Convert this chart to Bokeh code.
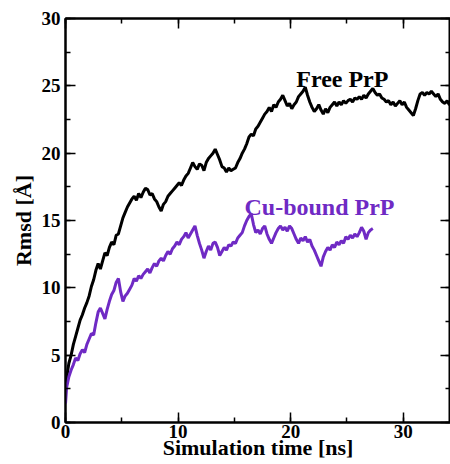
from bokeh.plotting import figure
from bokeh.models import LinearAxis, SingleIntervalTicker, Range1d, Label
from bokeh.embed import file_html
from bokeh.resources import INLINE

# ---- data ----
free_t = [0.0, 0.15, 0.3, 0.5, 0.7, 0.9, 1.1, 1.3, 1.5, 1.7, 1.9, 2.1, 2.3, 2.5, 2.7, 2.9,
          3.1, 3.3, 3.5, 3.7, 3.9, 4.1, 4.3, 4.5, 4.7, 4.9, 5.1, 5.3, 5.5, 5.7, 5.9,
          6.1, 6.3, 6.5, 6.7, 6.9, 7.1, 7.3, 7.5, 7.7, 7.9, 8.1, 8.3, 8.5, 8.7, 8.9,
          9.1, 9.3, 9.5, 9.7, 9.9, 10.1, 10.3, 10.5, 10.7, 10.9, 11.1, 11.3, 11.5, 11.7, 11.9,
          12.1, 12.3, 12.5, 12.7, 12.9, 13.1, 13.3, 13.5, 13.7, 13.9, 14.1, 14.3, 14.5, 14.7, 14.9,
          15.1, 15.3, 15.5, 15.7, 15.9, 16.1, 16.3, 16.5, 16.7, 16.9, 17.1, 17.3, 17.5, 17.7, 17.9,
          18.1, 18.3, 18.5, 18.7, 18.9, 19.1, 19.3, 19.5, 19.7, 19.9, 20.1, 20.3, 20.5, 20.7, 20.9,
          21.1, 21.3, 21.5, 21.7, 21.9, 22.1, 22.3, 22.5, 22.7, 22.9, 23.1, 23.3, 23.5, 23.7, 23.9,
          24.1, 24.3, 24.5, 24.7, 24.9, 25.1, 25.3, 25.5, 25.7, 25.9, 26.1, 26.3, 26.5, 26.7, 26.9,
          27.1, 27.3, 27.5, 27.7, 27.9, 28.1, 28.3, 28.5, 28.7, 28.9, 29.1, 29.3, 29.5, 29.7, 29.9,
          30.1, 30.3, 30.5, 30.7, 30.9, 31.1, 31.3, 31.5, 31.7, 31.9, 32.1, 32.3, 32.5, 32.7, 32.9,
          33.1, 33.3, 33.5, 33.7, 33.9, 34.1, 34.3, 34.5]
free_rmsd = [2.4, 3.6, 4.4, 5.0, 5.8, 6.4, 7.0, 7.6, 8.0, 8.5, 8.9, 9.4, 10.1, 10.6, 11.3, 11.8,
             11.4, 12.0, 12.6, 12.4, 13.0, 13.4, 13.2, 13.9, 14.0, 14.6, 15.2, 15.6, 16.0, 16.3, 16.6,
             16.8, 16.5, 17.0, 16.7, 17.1, 17.4, 17.3, 16.9, 17.0, 16.6, 16.4, 16.0, 15.7, 16.2, 16.4,
             16.8, 17.0, 17.2, 17.4, 17.6, 17.8, 17.6, 18.0, 18.3, 18.5, 18.9, 19.3, 19.0, 18.8, 19.2,
             19.1, 18.7, 19.3, 19.6, 19.8, 20.0, 20.3, 19.9, 19.5, 19.0, 18.9, 18.6, 18.9, 18.7, 18.8,
             18.9, 19.3, 19.6, 20.0, 20.3, 20.7, 21.2, 21.4, 21.3, 21.8, 22.0, 22.3, 22.6, 22.9, 23.1,
             23.4, 23.1, 23.6, 23.4, 23.8, 24.0, 24.3, 23.9, 23.5, 23.7, 23.3, 23.6, 23.8, 24.2, 24.4,
             24.6, 24.9, 24.3, 23.8, 23.4, 23.1, 23.3, 23.6, 23.2, 22.9, 23.3, 23.0, 23.4, 23.6, 23.8,
             23.5, 23.8, 23.6, 23.9, 23.7, 23.9, 24.0, 23.8, 24.1, 24.0, 24.2, 24.0, 24.3, 24.1, 24.4,
             24.6, 24.8, 24.5, 24.3, 24.4, 24.1, 24.0, 23.8, 23.9, 23.6, 23.8, 23.5, 23.7, 23.9, 23.6,
             23.8, 23.4, 23.2, 23.0, 22.8, 23.3, 23.9, 24.4, 24.5, 24.3, 24.5, 24.4, 24.6, 24.4, 24.2,
             24.4, 24.0, 23.8, 23.7, 23.9, 23.6, 23.7, 23.5]

cu_t = [0.0, 0.1, 0.3, 0.5, 0.7, 0.9, 1.1, 1.3, 1.5, 1.7, 1.9, 2.1, 2.3, 2.5, 2.7, 2.9,
        3.1, 3.3, 3.5, 3.7, 3.9, 4.1, 4.3, 4.5, 4.7, 4.9, 5.1, 5.3, 5.5, 5.7, 5.9,
        6.1, 6.3, 6.5, 6.7, 6.9, 7.1, 7.3, 7.5, 7.7, 7.9, 8.1, 8.3, 8.5, 8.7, 8.9,
        9.1, 9.3, 9.5, 9.7, 9.9, 10.1, 10.3, 10.5, 10.7, 10.9, 11.1, 11.3, 11.5, 11.7, 11.9,
        12.1, 12.3, 12.5, 12.7, 12.9, 13.1, 13.3, 13.5, 13.7, 13.9, 14.1, 14.3, 14.5, 14.7, 14.9,
        15.1, 15.3, 15.5, 15.7, 15.9, 16.1, 16.3, 16.5, 16.7, 16.9, 17.1, 17.3, 17.5, 17.7, 17.9,
        18.1, 18.3, 18.5, 18.7, 18.9, 19.1, 19.3, 19.5, 19.7, 19.9, 20.1, 20.3, 20.5, 20.7, 20.9,
        21.1, 21.3, 21.5, 21.7, 21.9, 22.1, 22.3, 22.5, 22.7, 22.9, 23.1, 23.3, 23.5, 23.7, 23.9,
        24.1, 24.3, 24.5, 24.7, 24.9, 25.1, 25.3, 25.5, 25.7, 25.9, 26.1, 26.3, 26.5, 26.7, 26.9,
        27.1, 27.3]
cu_rmsd = [1.4, 2.6, 3.4, 3.9, 4.3, 4.8, 4.6, 5.1, 5.4, 5.2, 5.8, 6.2, 6.6, 6.5, 7.4, 8.2,
           8.5, 8.1, 7.7, 8.4, 9.0, 9.5, 9.8, 10.4, 10.7, 9.7, 9.0, 9.4, 9.6, 9.9, 10.2,
           10.7, 10.5, 10.9, 10.7, 11.0, 11.2, 11.4, 11.1, 11.5, 11.8, 11.6, 12.0, 12.2, 12.0, 12.4,
           12.7, 12.5, 12.9, 13.1, 13.4, 13.2, 13.6, 13.8, 14.1, 13.7, 14.0, 14.3, 14.6, 13.9, 13.3,
           12.8, 12.2, 12.7, 13.1, 12.8, 13.3, 13.4, 13.0, 12.4, 12.7, 13.0, 12.8, 13.2, 13.1, 13.4,
           13.3, 13.7, 13.9, 14.1, 14.6, 15.0, 15.3, 15.5, 14.7, 14.1, 14.3, 14.0, 14.4, 14.6, 14.0,
           13.6, 13.3, 13.7, 14.1, 14.4, 14.6, 14.3, 14.5, 14.2, 14.6, 14.4, 14.0, 13.6, 13.3, 13.7,
           13.5, 13.8, 13.4, 13.6, 13.1, 12.8, 12.4, 12.0, 11.6, 12.3, 12.7, 13.0, 12.8, 13.2, 13.0,
           13.4, 13.2, 13.5, 13.3, 13.8, 13.6, 13.9, 13.7, 14.0, 13.8, 14.1, 14.5, 14.2, 13.6, 14.1,
           14.3, 14.4]

series_names = ["Free PrP", "Cu-bound PrP"]
series_colors = ["black", "#6f2ac4"]
x_label = "Simulation time [ns]"
y_label = "Rmsd [\u00c5]"

FONT = "'Liberation Serif', 'Times New Roman', serif"

p = figure(width=450, height=464, output_backend="svg", toolbar_location=None,
           x_range=Range1d(0, 34.2), y_range=Range1d(0, 30),
           min_border_left=65, min_border_top=18, min_border_right=0, min_border_bottom=42)
p.background_fill_color = "white"
p.border_fill_color = "white"
p.outline_line_color = "black"
p.outline_line_width = 2
p.xgrid.visible = False
p.ygrid.visible = False

p.line(free_t, free_rmsd, line_color=series_colors[0], line_width=3)
p.line(cu_t, cu_rmsd, line_color=series_colors[1], line_width=3)

def style_axis(ax, show_labels):
    ax.axis_line_width = 2
    ax.axis_line_color = "black"
    ax.major_tick_in = 10
    ax.major_tick_out = 0
    ax.minor_tick_in = 5
    ax.minor_tick_out = 0
    ax.major_tick_line_width = 1.5
    ax.minor_tick_line_width = 1.5
    ax.major_tick_line_color = "black"
    ax.minor_tick_line_color = "black"
    if show_labels:
        ax.major_label_text_font = FONT
        ax.major_label_text_font_style = "bold"
        ax.major_label_text_font_size = "19px"
        ax.major_label_text_color = "black"
        ax.axis_label_text_font = FONT
        ax.axis_label_text_font_style = "bold"
        ax.axis_label_text_font_size = "22px"
        ax.axis_label_text_color = "black"
    else:
        ax.major_label_text_font_size = "1px"
        ax.major_label_text_color = None
        ax.major_label_standoff = 0

xt = SingleIntervalTicker(interval=10, num_minor_ticks=2)
yt = SingleIntervalTicker(interval=5, num_minor_ticks=2)

p.xaxis.ticker = xt
p.yaxis.ticker = yt
p.xaxis.axis_label = x_label
p.yaxis.axis_label = y_label
style_axis(p.xaxis[0], True)
style_axis(p.yaxis[0], True)
p.xaxis.major_label_standoff = 2
p.xaxis.axis_label_standoff = -6
p.yaxis.major_label_standoff = 5
p.yaxis.axis_label_standoff = 3

top = LinearAxis(ticker=SingleIntervalTicker(interval=10, num_minor_ticks=2))
style_axis(top, False)
p.add_layout(top, "above")
right = LinearAxis(ticker=SingleIntervalTicker(interval=5, num_minor_ticks=2))
style_axis(right, False)
p.add_layout(right, "right")

p.add_layout(Label(x=20.5, y=25.5, text=series_names[0], text_color=series_colors[0],
                   text_font=FONT, text_font_style="bold", text_font_size="24px",
                   text_align="left", text_baseline="alphabetic"))
p.add_layout(Label(x=15.9, y=16.0, text=series_names[1], text_color=series_colors[1],
                   text_font=FONT, text_font_style="bold", text_font_size="24px",
                   text_align="left", text_baseline="alphabetic"))

open("out.html", "w").write(file_html(p, INLINE))
